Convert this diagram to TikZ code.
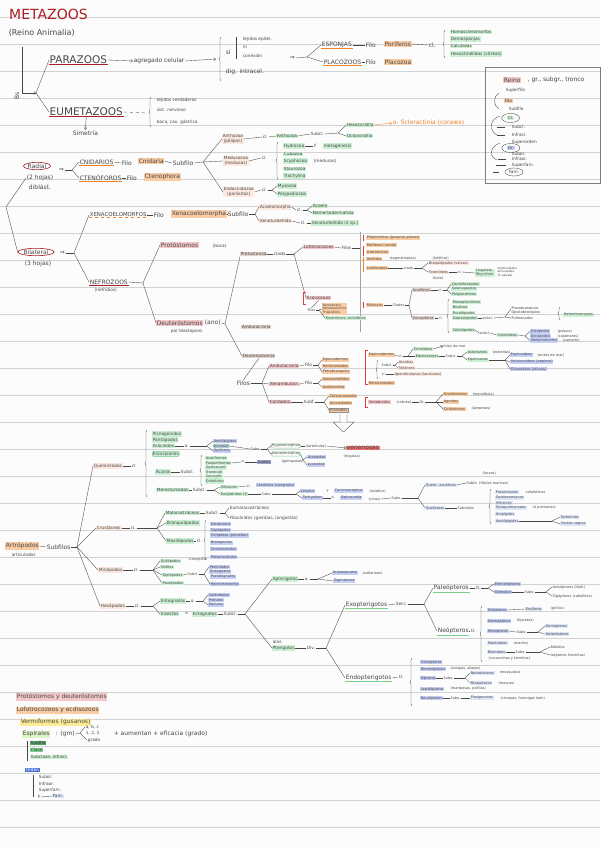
\documentclass[tikz,border=0pt]{standalone}
\usepackage{fontspec}
\setmainfont{DejaVu Sans}
\usetikzlibrary{arrows.meta,decorations.pathreplacing,shapes.geometric}
\definecolor{ink}{RGB}{70,70,70}
\definecolor{bgc}{RGB}{252,252,252}
\definecolor{rulec}{RGB}{210,210,210}
\definecolor{tred}{RGB}{172,28,34}
\definecolor{pfill}{RGB}{244,200,202}
\definecolor{ofill}{RGB}{250,204,164}
\definecolor{kfill}{RGB}{252,232,222}
\definecolor{gfill}{RGB}{204,240,212}
\definecolor{bfill}{RGB}{198,208,246}
\definecolor{lbfill}{RGB}{222,230,250}
\definecolor{brfill}{RGB}{228,214,204}
\definecolor{rfill}{RGB}{236,112,112}
\definecolor{bdark}{RGB}{150,160,200}
\definecolor{yfill}{RGB}{252,236,150}
\definecolor{lgfill}{RGB}{222,245,200}
\definecolor{dgfill}{RGB}{80,160,105}
\definecolor{mgfill}{RGB}{120,210,140}
\definecolor{blfill}{RGB}{70,110,215}
\definecolor{uorange}{RGB}{240,130,40}
\definecolor{ured}{RGB}{170,30,40}
\definecolor{ugreen}{RGB}{120,210,140}
\definecolor{rbrk}{RGB}{225,60,60}
\newcommand\fsmall{\fontsize{4.3}{5}\selectfont}
\newcommand\fmed{\fontsize{6}{7}\selectfont}
\newcommand\ftiny{\fontsize{3.5}{4}\selectfont}
\newcommand\fbig{\fontsize{10.5}{11}\selectfont}
\tikzset{
  tx/.style={font=\fsmall, text=ink, inner sep=0.6pt, anchor=west},
  txm/.style={tx, font=\fmed},
  txs/.style={tx, font=\ftiny, inner sep=0.4pt},
  bigt/.style={tx, font=\fbig, inner sep=0.5pt},
  bxg/.style={tx, fill=gfill},
  bxo/.style={tx, fill=ofill},
  bxp/.style={tx, fill=pfill},
  bxk/.style={tx, fill=kfill},
  bxb/.style={tx, fill=bfill},
  bxl/.style={tx, fill=lbfill},
  bxr/.style={tx, fill=brfill},
  bxy/.style={tx, fill=yfill},
  con/.style={draw=ink, line width=0.35pt},
  arr/.style={con, -{Straight Barb[length=2pt,width=3pt]}},
  rule/.style={draw=rulec, line width=0.9pt},
  brc/.style={con, decorate, decoration={brace, amplitude=2pt}},
  ulr/.style={draw=ured, line width=0.8pt},
  ulo/.style={draw=uorange, line width=0.8pt},
  ulg/.style={draw=ugreen, line width=0.6pt},
  circ/.style={draw=ugreen, rounded corners=2pt, line width=0.5pt},
  rbr/.style={draw=rbrk, line width=0.7pt},
}
\begin{document}
\begin{tikzpicture}[x=1pt,y=-1pt]
\useasboundingbox (0,0) rectangle (600,848);
\fill[bgc] (0,0) rectangle (600,848);
\foreach \k in {0,...,30} {\draw[rule] (0,17+27*\k) -- (600,17+27*\k);}

% ---------- title
\node[tx, font=\fontsize{14}{14}\selectfont, text=tred, inner sep=0] (title) at (9,14) {METAZOOS};
\node[tx, font=\fontsize{8}{9}\selectfont] (reino) at (8,33) {(Reino Animalia)};

% ---------- parazoos / eumetazoos
\coordinate (bsT) at (22,47);
\coordinate (bsB) at (22,93);
\coordinate (root) at (36,93);
\draw[con] (bsT) -- (bsB);
\draw[arr] (bsB) -- (root);
\node[txm, rotate=90] (bslab) at (17,100) {Bs};
\node[bigt] (para) at (49,60) {PARAZOOS};
\node[bigt] (eume) at (49,112) {EUMETAZOOS};
\draw[ulr] (para.south west) -- (para.south east);
\draw[ulr] (eume.south west) -- (eume.south east);
\draw[con] (root) -- (para.west);
\draw[con] (root) -- (eume.west);

\node[txm] (agreg) at (133,61) {agregado celular};
\draw[arr] (para.east) -- (agreg.west);
\coordinate (pbr) at (216,59);
\draw[arr] (agreg.east) -- (pbr);
\draw[brc] (221,81) -- (221,37);
\node[txm] (si) at (225,52) {sí};
\draw[con] (236,37) -- (236,59);
\node[tx] (tej) at (242,39) {tejidos epitel.};
\node[tx] (ni) at (242,47) {ni};
\node[tx] (conx) at (242,56) {conexión};
\node[txm] (dig) at (225,72) {dig. intracel.};
\node[txm] (impl) at (289,58) {⇒};
\coordinate (psplit) at (307,57);
\draw[con] (impl.east) -- (psplit);
\node[txm] (espon) at (321,45) {ESPONJAS};
\node[txm] (placo) at (323,62) {PLACOZOOS};
\draw[ulo] (espon.south west) -- (espon.south east);
\draw[ulo] (placo.south west) -- (placo.south east);
\draw[con] (psplit) -- (espon.west);
\draw[con] (psplit) -- (placo.west);
\node[txm] (filo1) at (365,45) {Filo};
\node[bxo, font=\fmed] (porif) at (384,44) {Poríferos};
\draw[con] (espon.east) -- (filo1.west);
\node[txm] (filo2) at (365,62) {Filo};
\node[bxo, font=\fmed] (placz) at (384,62) {Placozoa};
\draw[con] (placo.east) -- (filo2.west);
\node[txm] (cl1) at (428,45) {cl.};
\draw[con] (porif.east) -- (cl1.west);
\draw[brc] (445,58) -- (445,30);
\node[bxg] (por1) at (450,32) {Homoscleromorfos};
\node[bxg] (por2) at (450,39) {Demosponjas};
\node[bxg] (por3) at (450,46) {Calcáreas};
\node[bxg] (por4) at (450,54) {Hexactinélidas (vítreas)};

\coordinate (ebr) at (147,113);
\draw[con, dashed] (eume.east) -- (ebr);
\draw[brc] (151,127) -- (151,97);
\node[tx] (eu1) at (156,100) {tejidos verdaderos};
\node[tx] (eu2) at (156,110) {sist. nervioso};
\node[tx] (eu3) at (156,122) {boca, cav. gástrica};
\node[txm] (sim) at (72,133) {Simetría};
\draw[arr] (eume.south) -- (sim.north);

% ---------- taxonomy box
\draw[draw=ink!70, line width=0.5pt] (485,67) rectangle (600,183);
\node[bxp, font=\fmed] (treino) at (503,80) {Reino};
\node[txm] (tgr) at (527,80) {, gr., subgr., tronco};
\node[tx] (tsupf) at (505,90) {Superfilo};
\node[bxo] (tfilo) at (504,101) {Filo};
\node[tx] (tsubf) at (508,109) {Subfilo};
\node[bxg] (tcl) at (507,118) {Cl.};
\draw[con] (tcl.center) ellipse [x radius=9, y radius=4.5];
\node[tx] (tsubcl) at (511,127) {Subcl.};
\node[tx] (tinfcl) at (511,135) {Infracl.};
\node[tx] (tsupo) at (511,142) {Superorden};
\node[bxb] (tor) at (507,148) {Or.};
\draw[con] (tor.center) ellipse [x radius=9, y radius=4.5];
\node[tx] (tsubo) at (511,154) {Subor.};
\node[tx] (tinfo) at (511,159) {Infraor.};
\node[tx] (tsupfa) at (511,165) {Superfam.};
\node[tx] (tfam) at (508,172) {Fam.};
\draw[con] (tfam.center) ellipse [x radius=9, y radius=4];
\draw[con] (499,93) .. controls (493,96) and (493,106) .. (499,109);
\draw[con] (500,116) .. controls (489,119) and (489,131) .. (497,135);
\draw[con] (500,143) .. controls (489,147) and (489,157) .. (497,160);
\draw[con] (497,127) -- (505,127);
\draw[con] (497,135) -- (505,135);
\draw[con] (498,159) -- (506,159);
\draw[con] (496,165) -- (506,165);
\draw[con] (493,172) -- (499,172);

% ---------- radial
\node[txm, anchor=center, ellipse, draw=ured, line width=0.6pt, inner sep=0.3pt] (radial) at (37,166) {Radial};
\node[txm, anchor=center] (rad2) at (40,178) {(2 hojas)};
\node[txm, anchor=center] (rad3) at (40,187) {diblást.};
\node[txm, anchor=center, ellipse, draw=ured, line width=0.6pt, inner sep=0.3pt] (bilat) at (36,252) {Bilateral};
\node[txm, anchor=center] (bil2) at (38,264) {(3 hojas)};
\coordinate (symv) at (6,207);
\draw[con] (rad2.west) -- (symv) -- (bilat.west);

\node[txm] (rimp) at (58,170) {⇒};
\coordinate (rsplit) at (72,170);
\draw[con] (rimp.east) -- (rsplit);
\node[txm] (cnid) at (79,162) {CNIDARIOS};
\node[txm] (cten) at (79,178) {CTENÓFOROS};
\draw[ulo] (cnid.south west) -- (cnid.south east);
\draw[ulo] (cten.south west) -- (cten.south east);
\draw[con] (rsplit) -- (cnid.west);
\draw[con] (rsplit) -- (cten.west);
\node[txm] (fcn) at (121,163) {Filo};
\draw[con] (cnid.east) -- (fcn.west);
\node[bxo, font=\fmed] (cnidaria) at (138,161) {Cnidaria};
\node[txm] (subf1) at (172,163) {Subfilo};
\draw[con] (cnidaria.east) -- (subf1.west);
\coordinate (csplit) at (203,162);
\draw[con] (subf1.east) -- (csplit);
\node[bxk, align=center] (antho) at (222,139) {Anthozoa\\(pólipos)};
\node[bxk, align=center] (medu) at (223,161) {Medusozoa\\(medusas)};
\node[bxk, align=center] (endo) at (223,192) {Endocnidozoa\\(parásitos)};
\draw[con] (csplit) -- (antho.west);
\draw[con] (csplit) -- (medu.west);
\draw[con] (csplit) -- (endo.west);
\node[tx] (clA) at (262,137) {cl.};
\draw[con] (antho.east) -- (clA.west);
\node[bxg] (anthoz) at (276,136) {Anthozoa};
\draw[con] (clA.east) -- (anthoz.west);
\node[tx] (subclA) at (310,134) {Subcl.};
\draw[con] (anthoz.east) -- (subclA.west);
\coordinate (asplit) at (338,133);
\draw[con] (subclA.east) -- (asplit);
\node[bxg] (hexa) at (346,125) {Hexacorallia};
\node[bxg] (octo) at (346,136) {Octocorallia};
\draw[con] (asplit) -- (hexa.west);
\draw[con] (asplit) -- (octo.west);
\node[txm, text=uorange] (scler) at (392,123) {o. Scleractinia (corales)};
\draw[arr, draw=uorange] (hexa.east) -- (scler.west);

\node[tx] (clM) at (261,158) {cl.};
\draw[con] (medu.east) -- (clM.west);
\draw[brc] (278,179) -- (278,142);
\node[bxg] (hyd) at (283,146) {Hydrozoa};
\node[tx] (hy) at (313,146) {y};
\node[bxg] (hyd2) at (323,146) {metagénesis};
\draw[con] (hyd.east) -- (hy.west);
\node[bxg] (cubo) at (283,154) {Cubozoa};
\node[bxg] (scyp) at (283,161) {Scyphozoa};
\node[tx] (scyp2) at (313,161) {(medusas)};
\node[bxg] (stau) at (283,169) {Staurozoa};
\node[bxg] (trach) at (283,176) {Trachylina};

\node[tx] (clE) at (261,190) {cl.};
\draw[con] (endo.east) -- (clE.west);
\coordinate (esplit) at (272,190);
\draw[con] (clE.east) -- (esplit);
\node[bxg] (myxo) at (277,186) {Myxozoa};
\node[bxg] (polyE) at (277,194) {Polypodiozoa};
\draw[con] (esplit) -- (myxo.west);
\draw[con] (esplit) -- (polyE.west);

\node[txm] (fct) at (126,178) {Filo};
\draw[con] (cten.east) -- (fct.west);
\node[bxo, font=\fmed] (ctenoph) at (144,177) {Ctenophora};

% ---------- bilateral
\node[txm] (bimp) at (59,253) {⇒};
\coordinate (bsplit) at (74,253);
\draw[con] (bimp.east) -- (bsplit);
\node[txm, font=\fontsize{5.4}{6}\selectfont] (xena) at (89,215) {XENACOELOMORFOS};
\draw[ulo, dashed] (xena.south west) -- (xena.south east);
\node[txm] (nefro) at (89,282) {NEFROZOOS};
\draw[ulr] (nefro.south west) -- (nefro.south east);
\node[tx] (nefr2) at (94,290) {(nefridios)};
\draw[con] (bsplit) -- (xena.west);
\draw[con] (bsplit) -- (nefro.west);
\node[txm] (fx) at (153,215) {Filo};
\draw[con] (xena.east) -- (fx.west);
\node[bxo, font=\fmed] (xenac) at (171,214) {Xenacoelomorpha};
\node[txm] (subfx) at (227,214) {Subfilo};
\draw[con] (xenac.east) -- (subfx.west);
\coordinate (xsplit) at (255,214);
\draw[con] (subfx.east) -- (xsplit);
\node[bxk] (acoelo) at (259,207) {Acoelomorpha};
\node[bxk] (xenot) at (259,221) {Xenoturbellida};
\draw[con] (xsplit) -- (acoelo.west);
\draw[con] (xsplit) -- (xenot.west);
\node[tx] (clx1) at (296,210) {cl.};
\draw[con] (acoelo.east) -- (clx1.west);
\coordinate (x1split) at (307,210);
\draw[con] (clx1.east) -- (x1split);
\node[bxg] (acoela) at (312,206) {Acoela};
\node[bxg] (nemer) at (312,213) {Nemertodermatida};
\draw[con] (x1split) -- (acoela.west);
\draw[con] (x1split) -- (nemer.west);
\node[tx] (clx2) at (300,223) {cl.};
\draw[con] (xenot.east) -- (clx2.west);
\node[bxg] (xenot2) at (311,223) {Xenoturbellida (2 sp.)};
\draw[con] (clx2.east) -- (xenot2.west);

\coordinate (nsplit) at (143,283);
\draw[con] (nefro.east) -- (nsplit);
\node[bxp, font=\fmed] (proto) at (160,245) {Protóstomos};
\node[tx] (proto2) at (212,246) {(boca)};
\node[bxp, font=\fmed] (deut) at (156,323) {Deuteróstomos};
\node[txm] (deut2) at (204,323) {(ano)};
\node[tx] (deut3) at (170,331) {por blastoporo};
\draw[con] (nsplit) -- (proto.west);
\draw[con] (nsplit) -- (deut.west);
\coordinate (dsplit) at (225,324);
\draw[con] (deut2.east) -- (dsplit);
\node[bxr] (protost) at (240,254) {Protostomia};
\node[bxr] (ambul) at (241,327) {Ambulacraria};
\node[bxr] (deutst) at (242,356) {Deuterostomia};
\draw[con] (dsplit) -- (protost.south west);
\draw[con] (dsplit) -- (deutst.west);
\node[tx] (clado1) at (273,254) {clado};
\draw[con] (protost.east) -- (clado1.west);
\coordinate (lsplit) at (294,254);
\draw[con] (clado1.east) -- (lsplit);
\node[bxp] (lofo) at (303,247) {Lofotrocozoos};
\node[bxp] (ecdi) at (306,298) {Ecdisozoos};
\draw[con] (lsplit) -- (lofo.west);
\draw[con] (lsplit) -- (ecdi.west);

\node[txm] (filos3) at (236,383) {Filos};
\draw[con] (deutst.south) -- (filos3.north);
\coordinate (fsplit) at (262,383);
\draw[con] (filos3.east) -- (fsplit);
\node[bxp] (amb1) at (269,366) {Ambulacraria};
\node[bxp] (xamb) at (269,384) {Xenambulacr.};
\node[bxp] (cord) at (269,402) {Cordados};
\draw[con] (fsplit) -- (amb1.west);
\draw[con] (fsplit) -- (xamb.west);
\draw[con] (fsplit) -- (cord.west);
\node[tx] (fa) at (304,365) {Filo};
\draw[con] (amb1.east) -- (fa.west);
\coordinate (fasplit) at (318,365);
\draw[con] (fa.east) -- (fasplit);
\node[bxo, font=\ftiny] (o1) at (322,360) {Equinodermos};
\node[bxo, font=\ftiny] (o2) at (322,366) {Hemicordados};
\node[bxo, font=\ftiny] (o3) at (322,372) {Pterobranquios};
\draw[con] (fasplit) -- (o1.west);
\draw[con] (fasplit) -- (o3.west);
\node[tx] (fx2) at (304,383) {Filo};
\draw[con] (xamb.east) -- (fx2.west);
\coordinate (fx2s) at (318,383);
\draw[con] (fx2.east) -- (fx2s);
\node[bxo, font=\ftiny] (o4) at (322,379) {Xenoturbélidos};
\node[bxo, font=\ftiny] (o5) at (322,387) {Acelomorfos};
\draw[con] (fx2s) -- (o4.west);
\draw[con] (fx2s) -- (o5.west);
\node[tx] (fc) at (303,402) {Subf.};
\draw[con] (cord.east) -- (fc.west);
\coordinate (fcs) at (324,402);
\draw[con] (fc.east) -- (fcs);
\node[bxo, font=\ftiny] (o6) at (329,396) {Cefalocordados};
\node[bxo, font=\ftiny] (o7) at (329,403) {Urocordados};
\node[bxo, font=\ftiny, draw=ink!60] (o8) at (329,410) {Craniados};
\draw[con] (fcs) -- (o6.west);
\draw[con] (fcs) -- (o8.west);
\draw[con] (340,414) -- (340,422) -- (333,422) -- (343.5,432) -- (354,422) -- (347,422) -- (347,414);

% ---------- deuterostome details
\draw[rbr] (368,350) -- (365,350) -- (365,384) -- (368,384);
\node[bxo, font=\ftiny] (equi) at (368,355) {Equinodermos};
\node[txs] (cleq) at (398,356) {cl.};
\draw[con] (equi.east) -- (cleq.west);
\coordinate (eqsplit) at (408,356);
\draw[con] (cleq.east) -- (eqsplit);
\node[bxg, font=\ftiny] (crin) at (413,349) {Crinoideos};
\node[txs] (crin2) at (443,346) {lirios de mar};
\draw[arr] (crin.east) -- (crin2.west);
\node[bxg, font=\ftiny] (eleu) at (415,356) {Eleuterozoos};
\draw[con] (eqsplit) -- (crin.west);
\draw[con] (eqsplit) -- (eleu.west);
\node[txs] (subeq) at (445,356) {Subcl.};
\draw[con] (eleu.east) -- (subeq.west);
\coordinate (es2) at (462,356);
\draw[con] (subeq.east) -- (es2);
\node[bxg, font=\ftiny] (aster) at (467,352) {Asterozoos};
\node[txs] (aster2) at (492,352) {(estrellas)};
\node[bxg, font=\ftiny] (echz) at (467,360) {Equinozoos};
\draw[con] (es2) -- (aster.west);
\draw[con] (es2) -- (echz.west);
\coordinate (echsplit) at (505,360);
\draw[con] (echz.east) -- (echsplit);
\node[bxb, font=\ftiny] (echi) at (510,355) {Equinoideos};
\node[txs] (echi2) at (537,355) {(erizos de mar)};
\node[bxb, font=\ftiny] (holo) at (510,362) {Holoturoideos (pepinos)};
\node[bxb, font=\ftiny] (ophi) at (510,369) {Ofiuroideos (ofiuras)};
\draw[con] (echsplit) -- (echi.west);
\draw[con] (echsplit) -- (holo.west);
\draw[con] (echsplit) -- (ophi.west);

\draw[brc] (378,379) -- (378,360);
\node[txs] (uro1) at (381,365) {Subcl.};
\coordinate (urosplit) at (395,365);
\draw[con] (uro1.east) -- (urosplit);
\node[bxk, font=\ftiny] (asc) at (398,362) {Ascidias};
\node[bxk, font=\ftiny] (tal) at (398,368) {Taliáceos};
\draw[con] (urosplit) -- (asc.west);
\draw[con] (urosplit) -- (tal.west);
\node[txs] (uro2) at (381,374) {cl.};
\node[bxk, font=\ftiny] (apen) at (394,374) {Apendicularias (larváceos)};
\draw[con] (uro2.east) -- (apen.west);
\node[bxo, font=\ftiny] (hemi) at (368,383) {Hemicordados};

\draw[rbr] (368,397) -- (365,397) -- (365,407) -- (368,407);
\node[bxp, font=\ftiny] (verte) at (368,402) {Vertebrados};
\node[txs] (verte2) at (396,402) {(cráneo)};
\node[txs] (filv) at (419,402) {Gr.};
\draw[con] (verte2.east) -- (filv.west);
\coordinate (vsplit) at (436,402);
\draw[con] (filv.east) -- (vsplit);
\node[bxo, font=\ftiny] (gnat) at (443,394) {Gnatóstomos};
\node[txs] (gnat2) at (472,394) {(mandíbula)};
\node[bxo, font=\ftiny] (agna) at (443,402) {Agnatos};
\node[bxo, font=\ftiny] (cicl) at (443,409) {Ciclóstomos};
\node[txs] (cicl2) at (471,409) {(lampreas)};
\draw[con] (vsplit) -- (gnat.west);
\draw[con] (vsplit) -- (agna.west);
\draw[con] (vsplit) -- (cicl.west);

% ---------- lofotrocozoos
\draw[draw=ink!50, line width=0.4pt] (360,232) -- (360,332);
\node[tx] (filosL) at (341,248) {Filos};
\draw[con] (lofo.east) -- (filosL.west);
\coordinate (lvbar) at (360,248);
\draw[con] (filosL.east) -- (lvbar);
\draw[rbr] (363,235) -- (363,241);
\node[bxo, font=\ftiny] (plat) at (366,238) {Platelmintos (gusanos planos)};
\node[bxo, font=\ftiny] (rot) at (366,245) {Rotíferos (rueda)};
\node[bxo, font=\ftiny] (gast) at (366,252) {Gastrotricos};
\draw[rbr] (363,246) -- (363,256);
\draw[draw=uorange, line width=0.7pt] (363,257) -- (363,272);
\node[bxo, font=\ftiny] (anel) at (366,259) {Anélidos};
\node[txs] (anel2) at (389,259) {(segmentados)};
\node[bxo, font=\ftiny] (lofof) at (366,268) {Lofoforados};
\node[txs] (clad2) at (403,268) {clado};
\draw[con] (lofof.east) -- (clad2.west);
\coordinate (lfsplit) at (422,268);
\draw[con] (clad2.east) -- (lfsplit);
\node[txs] (brq0) at (432,258) {(lofóforo)};
\node[bxk, font=\ftiny] (braq) at (428,263) {Braquiópodos (valvas)};
\node[bxk, font=\ftiny] (foro) at (428,272) {Foronídeos};
\node[txs] (foro2) at (432,278) {(tubo)};
\draw[con] (lfsplit) -- (braq.west);
\draw[con] (lfsplit) -- (foro.west);
\node[txs] (clfo) at (457,272) {cl.};
\draw[con] (foro.east) -- (clfo.west);
\node[bxg, font=\ftiny, align=left] (ling) at (475,273) {Lingulata\\Rhynchon.};
\draw[con] (clfo.east) -- (ling.west);
\node[tx, font=\fontsize{3}{3.5}\selectfont, align=left, inner sep=0.3pt] (ling2) at (497,272) {inarticulados\\articulados\\(2 valvas)};

\draw[rbr] (306,292) -- (303,292) -- (303,304) -- (306,304);
\node[txs] (fec) at (307,310) {Filos};
\draw[con] (ecdi.south) -- (fec.north);
\coordinate (ecsplit) at (319,310);
\draw[con] (fec.east) -- (ecsplit);
\node[bxo, font=\fontsize{3.2}{3.7}\selectfont, align=left, inner sep=0.5pt] (nema) at (322,309) {Nematodos\\Nematomorfos\\Priapúlidos};
\node[bxg, font=\ftiny] (kino) at (325,318) {Kinorrincos, Loricíferos};
\draw[con] (ecsplit) -- (nema.west);
\draw[con] (ecsplit) -- (kino.west);

\draw[rbr] (363,302) -- (363,308);
\node[bxo, font=\ftiny] (mol) at (366,305) {Moluscos};
\node[txs] (clm) at (392,305) {Clados};
\draw[con] (mol.east) -- (clm.west);
\coordinate (msplit) at (409,305);
\draw[con] (clm.east) -- (msplit);
\node[bxr, font=\ftiny] (acul) at (412,290) {Aculíferos};
\node[bxr, font=\ftiny] (conq) at (412,318) {Conquíferos};
\draw[con] (msplit) -- (acul.west);
\draw[con] (msplit) -- (conq.west);
\node[txs] (clac) at (438,290) {cl.};
\draw[con] (acul.east) -- (clac.west);
\coordinate (acsplit) at (447,290);
\draw[con] (clac.east) -- (acsplit);
\node[bxg, font=\ftiny] (cau) at (451,284) {Caudofoveados};
\node[bxg, font=\ftiny] (sole) at (451,289) {Solenogastros};
\node[bxg, font=\ftiny] (poli) at (451,294) {Poliplacóforos};
\draw[con] (acsplit) -- (cau.west);
\draw[con] (acsplit) -- (poli.west);
\node[txs] (clcq) at (438,318) {cl.};
\draw[con] (conq.east) -- (clcq.west);
\draw[brc] (449,333) -- (449,299);
\node[bxg, font=\ftiny] (mono) at (452,302) {Monoplacóforos};
\node[bxg, font=\ftiny] (biva) at (452,307) {Bivalvos};
\node[bxg, font=\ftiny] (esca) at (452,313) {Escafópodos};
\node[bxg, font=\ftiny] (gast2) at (452,318) {Gasterópodos};
\node[bxg, font=\ftiny] (cefa) at (452,330) {Cefalópodos};
\node[txs] (subg) at (482,318) {subcl.};
\draw[con] (gast2.east) -- (subg.west);
\coordinate (gsplit) at (505,317);
\draw[con] (subg.east) -- (gsplit);
\node[txs] (pros) at (511,309) {Prosobranquios};
\node[txs] (opis) at (511,313) {Opistobranquios};
\node[txs] (pulm) at (511,318) {Pulmonados};
\draw[con] (gsplit) -- (pros.west);
\draw[con] (gsplit) -- (pulm.west);
\draw[brc] (560,320) -- (560,307);
\node[bxg, font=\ftiny] (hetb) at (563,315) {Heterobranquios};
\node[txs] (cef2) at (479,333) {subcl.};
\draw[con] (cefa.east) -- (cef2.west);
\node[bxg, font=\ftiny] (cole) at (497,335) {Coleoideos};
\draw[con] (cef2.east) -- (cole.west);
\coordinate (cosplit) at (525,336);
\draw[con] (cole.east) -- (cosplit);
\node[bxb, font=\ftiny] (octp) at (530,331.5) {Octópodos};
\node[bxb, font=\ftiny] (decp) at (530,336) {Decápodos};
\node[bxb, font=\ftiny] (vamp) at (530,340.5) {Vampiromorfos};
\node[txs] (octp2) at (557,331.5) {(pulpos)};
\node[txs] (decp2) at (557,336) {(calamares)};
\node[txs] (vamp2) at (562,340.5) {(vampiro)};
\draw[con] (cosplit) -- (octp.west);
\draw[con] (cosplit) -- (vamp.west);

% ---------- artropodos
\node[bxo, font=\fmed] (artro) at (5,546) {Artrópodos};
\node[tx] (artro2) at (11,555) {articulados};
\node[txm] (subph) at (46,547) {Subfilos};
\draw[con] (artro.east) -- (subph.west);
\coordinate (asplit2) at (77,547);
\draw[con] (subph.east) -- (asplit2);
\node[bxk] (quel) at (93,466) {Quelicerados};
\node[bxk] (crus) at (96,528) {Crustáceos};
\node[bxk] (miri) at (98,570) {Miriápodos};
\node[bxk] (hexp) at (100,606) {Hexápodos};
\draw[con] (asplit2) -- (quel.west);
\draw[con] (asplit2) -- (crus.west);
\draw[con] (asplit2) -- (miri.west);
\draw[con] (asplit2) -- (hexp.west);

\node[tx] (clq) at (131,466) {cl.};
\draw[con] (quel.east) -- (clq.west);
\draw[brc] (147,497) -- (147,430);
\node[bxg] (q1) at (152,434) {Picnogónidos};
\node[bxg] (q2) at (152,440) {Pantópodos};
\node[bxg] (q3) at (152,446) {Arácnidos};
\node[bxg, circ] (q4) at (152,454) {Escorpiones};
\node[bxg] (q5) at (155,472) {Ácaros};
\node[bxg] (q6) at (156,490) {Merostomados};
\node[tx] (oq3) at (184,446) {o.};
\draw[con] (q3.east) -- (oq3.west);
\coordinate (q3split) at (207,446);
\draw[con] (oq3.east) -- (q3split);
\node[bxb, font=\ftiny] (esc) at (213,441) {Amblipígidos};
\node[bxb, font=\ftiny, circ] (aran) at (213,446) {Araneae};
\node[bxb, font=\ftiny] (opil) at (213,451) {Opiliones};
\draw[con] (q3split) -- (esc.west);
\draw[con] (q3split) -- (opil.west);
\node[txs] (sbo) at (250,449) {Subo.};
\draw[con] (aran.east) -- (sbo.west);
\coordinate (sbsplit) at (267,449);
\draw[con] (sbo.east) -- (sbsplit);
\node[txs, circ] (myga) at (271,446) {Mygalomorphae};
\node[txs, circ] (arnm) at (271,454) {Araneomorphae};
\draw[con] (sbsplit) -- (myga.west);
\draw[con] (sbsplit) -- (arnm.west);
\node[txs] (myga2) at (305,446) {(tarántulas)};
\draw[con] (myga.east) -- (myga2.west);
\node[tx, fill=rfill, font=\fmed] (vene) at (346,448) {venenosas};
\draw[arr] (myga2.east) -- (vene.west);
\node[txs] (vene2) at (343,457) {(migalas)};
\coordinate (arsplit) at (303,460);
\draw[con] (arnm.east) -- (arsplit);
\node[bxb, font=\ftiny] (arn1) at (307,457) {Araneidae};
\node[bxb, font=\ftiny] (arn2) at (307,465) {Lycosidae};
\draw[con] (arsplit) -- (arn1.west);
\draw[con] (arsplit) -- (arn2.west);

\node[tx] (sq5) at (180,472) {Subcl.};
\draw[con] (q5.east) -- (sq5.west);
\draw[brc] (202,486) -- (202,455);
\node[bxg, font=\ftiny] (ac1) at (205,458) {Acariformes};
\node[bxg, font=\ftiny] (ac2) at (205,463) {Parasitiformes};
\node[bxg, font=\ftiny] (ac3) at (205,468) {Opilioacarif.};
\node[bxg, font=\ftiny] (ac4) at (205,472.5) {Trombidif.};
\node[bxg, font=\ftiny] (ac5) at (205,477) {Sarcoptif.};
\node[bxg, font=\ftiny] (ac6) at (205,481.5) {Oribátidos};
\node[txs] (oac) at (241,462) {o.};
\draw[con] (ac2.east) -- (oac.west);
\node[tx, fill=bdark, font=\ftiny] (ixod) at (257,462) {Ixodida};
\draw[con] (oac.east) -- (ixod.west);
\node[txs] (ixod2) at (281,462) {(garrapatas)};

\node[tx] (sq6) at (192,490) {Subcl.};
\draw[con] (q6.east) -- (sq6.west);
\coordinate (q6split) at (214,490);
\draw[con] (sq6.east) -- (q6split);
\node[bxg, font=\ftiny] (xifo) at (220,487) {Xifosuros};
\node[bxg, font=\ftiny] (euri) at (220,494) {Euriptéridos (†)};
\draw[con] (q6split) -- (xifo.west);
\draw[con] (q6split) -- (euri.west);
\node[txs] (clxi) at (246,486) {cl.};
\draw[con] (xifo.east) -- (clxi.west);
\node[bxb, font=\ftiny] (limu) at (256,485) {Limúlidos (cangrejos)};
\node[txs] (subeu) at (261,494) {Subo.};
\draw[con] (euri.east) -- (subeu.west);
\coordinate (eusplit) at (296,494);
\draw[con] (subeu.east) -- (eusplit);
\node[bxb, font=\ftiny] (eu1) at (300,491) {Limulus};
\node[bxb, font=\ftiny] (eu2) at (302,498) {Tachypleus};
\draw[con] (eusplit) -- (eu1.west);
\draw[con] (eusplit) -- (eu2.west);
\node[txs] (eu1y) at (326,491) {y};
\node[bxb, font=\ftiny] (eu1b) at (334,491) {Carcinoscorpius};
\node[txs] (eu1c) at (369,491) {(asiático)};
\node[txs] (eu2o) at (331,498) {o.};
\draw[con] (eu2.east) -- (eu2o.west);
\node[bxb, font=\ftiny] (eu2b) at (340,498) {Xiphosurida};
\node[txs] (eu2c) at (368,499) {(vivos)};
\node[txs] (sbo2) at (391,498) {Subo.};
\draw[con] (eu2c.east) -- (sbo2.west);
\coordinate (s2split) at (418,498);
\draw[con] (sbo2.east) -- (s2split);
\node[bxl, font=\ftiny] (qua) at (425,485) {Quelic. acuáticos};
\node[txs] (qua2) at (466,483) {Subfo. (fósiles marinos)};
\node[txs] (qua3) at (482,473) {(larvas)};
\node[bxl, font=\ftiny] (qte) at (425,508) {Quelíceros};
\draw[con] (s2split) -- (qua.west);
\draw[con] (s2split) -- (qte.west);
\draw[con] (qua.east) -- (qua2.west);
\node[txs] (qte2) at (457,508) {Subclado};
\draw[con] (qte.east) -- (qte2.west);
\draw[brc] (491,524) -- (491,489);
\node[bxl, font=\ftiny] (sc1) at (495,492) {Prosomianos};
\node[bxl, font=\ftiny] (sc2) at (495,498) {Opistosomianos};
\node[bxl, font=\ftiny] (sc3) at (495,503) {Xifosuros};
\node[bxl, font=\ftiny] (sc4) at (495,508) {Tetrapulmonados};
\node[bxl, font=\ftiny] (sc5) at (495,514) {Uropígidos};
\node[bxl, font=\ftiny] (sc6) at (495,521) {Amblipígidos};
\node[txs] (sc1b) at (525,492) {cefalotórax};
\node[txs] (sc4b) at (532,508) {(4 pulmones)};
\coordinate (sc6split) at (552,521);
\draw[con] (sc6.east) -- (sc6split);
\node[bxl, font=\ftiny] (sc7) at (560,517) {Tarántulas};
\node[bxl, font=\ftiny] (sc8) at (560,524) {Viudas negras};
\draw[con] (sc6split) -- (sc7.west);
\draw[con] (sc6split) -- (sc8.west);

\node[tx] (clc) at (130,528) {cl.};
\draw[con] (crus.east) -- (clc.west);
\coordinate (crsplit) at (157,528);
\draw[con] (clc.east) -- (crsplit);
\node[bxg] (mala) at (165,513) {Malacostráceos};
\node[bxg] (bran) at (166,523) {Branquiópodos};
\node[bxg] (maxi) at (166,541) {Maxilópodos};
\draw[con] (crsplit) -- (mala.west);
\draw[con] (crsplit) -- (bran.west);
\draw[con] (crsplit) -- (maxi.west);
\node[tx] (smala) at (205,513) {Subcl.};
\draw[con] (mala.east) -- (smala.west);
\coordinate (mlsplit) at (225,513);
\draw[con] (smala.east) -- (mlsplit);
\node[tx] (eum) at (229,508) {Eumalacostráceos};
\node[tx] (filoc) at (229,518) {Filocáridos (gambas, langostas)};
\draw[con] (mlsplit) -- (eum.west);
\draw[con] (mlsplit) -- (filoc.west);
\node[tx] (clmx) at (196,541) {cl.};
\draw[con] (maxi.east) -- (clmx.west);
\draw[brc] (206,560) -- (206,520);
\node[bxb, font=\ftiny] (cr1) at (210,524) {Ostrácodos};
\node[bxb, font=\ftiny] (cr2) at (210,530) {Copépodos};
\node[bxb, font=\ftiny] (cr3) at (210,535.5) {Cirrípedos (percebes)};
\node[bxb, font=\ftiny] (cr4) at (210,543) {Branquiuros};
\node[bxb, font=\ftiny] (cr5) at (210,549) {Tantulocáridos};
\node[bxb, font=\ftiny] (cr6) at (210,557) {Mistacocáridos};

\node[tx] (clmi) at (133,570) {cl.};
\draw[con] (miri.east) -- (clmi.west);
\coordinate (misplit) at (153,570);
\draw[con] (clmi.east) -- (misplit);
\node[bxg, font=\ftiny] (m1) at (160,561) {Quilópodos};
\node[txs] (m1b) at (188,559) {(ciempiés)};
\node[bxg, font=\ftiny] (m2) at (160,567) {Sínfilos};
\node[bxg, font=\ftiny] (m3) at (162,575) {Diplópodos};
\node[bxg, font=\ftiny] (m4) at (162,583) {Paurópodos};
\draw[con] (misplit) -- (m1.west);
\draw[con] (misplit) -- (m2.west);
\draw[con] (misplit) -- (m3.west);
\draw[con] (misplit) -- (m4.west);
\node[txs] (sm3) at (187,574) {Subcl.};
\draw[con] (m3.east) -- (sm3.west);
\coordinate (m3split) at (204,574);
\draw[con] (sm3.east) -- (m3split);
\node[bxb, font=\ftiny] (mb1) at (209,567) {Penicilados};
\node[bxb, font=\ftiny] (mb2) at (209,572) {Quilognatos};
\node[bxb, font=\ftiny] (mb3) at (210,577) {Pselafognatos};
\node[bxb, font=\ftiny] (mb4) at (210,584) {Helmintomorfos};
\draw[con] (m3split) -- (mb1.west);
\draw[con] (m3split) -- (mb4.west);

\node[tx] (clh) at (134,606) {cl.};
\draw[con] (hexp.east) -- (clh.west);
\coordinate (hxsplit) at (153,606);
\draw[con] (clh.east) -- (hxsplit);
\node[bxg] (ento) at (160,601) {Entognatos};
\node[bxg] (inse) at (160,614) {Insectos};
\draw[con] (hxsplit) -- (ento.west);
\draw[con] (hxsplit) -- (inse.west);
\node[tx] (oento) at (190,601) {o.};
\draw[con] (ento.east) -- (oento.west);
\coordinate (entsplit) at (203,601);
\draw[con] (oento.east) -- (entsplit);
\node[bxb, font=\ftiny] (en1) at (208,595) {Colémbolos};
\node[bxb, font=\ftiny] (en2) at (208,600) {Proturos};
\node[bxb, font=\ftiny] (en3) at (208,605) {Dipluros};
\draw[con] (entsplit) -- (en1.west);
\draw[con] (entsplit) -- (en3.west);
\node[tx] (inseq) at (184,614) {=};
\node[bxg] (ecto) at (192,614) {Ectognatos};
\node[tx] (subcli) at (223,614) {Subcl.};
\draw[con] (ecto.east) -- (subcli.west);
\coordinate (isplit) at (245,614);
\draw[con] (subcli.east) -- (isplit);
\node[bxg] (apte) at (272,579) {Apterigotos};
\node[tx] (alas) at (272,642) {alas};
\node[bxg] (pteri) at (272,648) {Pterigotos};
\draw[con] (isplit) -- (apte.west);
\draw[con] (isplit) -- (pteri.west);
\node[tx] (oap) at (304,579) {o.};
\draw[con] (apte.east) -- (oap.west);
\coordinate (apsplit) at (318,579);
\draw[con] (oap.east) -- (apsplit);
\node[bxb, font=\ftiny] (arq) at (332,573) {Arqueognatos};
\node[txs] (arq2) at (362,573) {(saltarines)};
\node[bxb, font=\ftiny] (zig) at (333,581) {Zigentomos};
\draw[con] (apsplit) -- (arq.west);
\draw[con] (apsplit) -- (zig.west);
\node[tx] (divp) at (306,648) {Div.};
\draw[con] (pteri.east) -- (divp.west);
\coordinate (ptsplit) at (326,648);
\draw[con] (divp.east) -- (ptsplit);
\node[txm] (exo) at (345,605) {Exopterigotos};
\node[txm] (endop) at (345,678) {Endopterigotos};
\draw[ulg] (exo.south west) -- (exo.south east);
\draw[ulg] (endop.south west) -- (endop.south east);
\draw[con] (ptsplit) -- (exo.west);
\draw[con] (ptsplit) -- (endop.west);
\node[tx] (secc) at (395,604) {Secc.};
\draw[con] (exo.east) -- (secc.west);
\coordinate (exsplit) at (424,604);
\draw[con] (secc.east) -- (exsplit);
\node[txm] (paleo) at (433,588) {Paleópteros};
\node[txm] (neop) at (437,631) {Neópteros};
\draw[ulg] (paleo.south west) -- (paleo.south east);
\draw[ulg] (neop.south west) -- (neop.south east);
\draw[con] (exsplit) -- (paleo.west);
\draw[con] (exsplit) -- (neop.west);
\node[tx] (opal) at (475,588) {O.};
\draw[con] (paleo.east) -- (opal.west);
\coordinate (pasplit) at (488,588);
\draw[con] (opal.east) -- (pasplit);
\node[bxb, font=\ftiny] (efem) at (494,584) {Efemerópteros};
\node[bxb, font=\ftiny] (odon) at (494,592) {Odonatos};
\draw[con] (pasplit) -- (efem.west);
\draw[con] (pasplit) -- (odon.west);
\node[txs] (sodo) at (524,592) {Subo.};
\draw[con] (odon.east) -- (sodo.west);
\coordinate (odsplit) at (546,592);
\draw[con] (sodo.east) -- (odsplit);
\node[txs] (aniso) at (552,587) {Anisópteros (libél.)};
\node[txs] (zigo) at (552,596) {Zigópteros (caballitos)};
\draw[con] (odsplit) -- (aniso.west);
\draw[con] (odsplit) -- (zigo.west);
\node[tx] (oneo) at (470,631) {O.};
\draw[con] (neop.east) -- (oneo.west);
\draw[brc] (482,662) -- (482,606);
\node[bxb, font=\ftiny] (orto) at (487,610) {Ortópteros};
\node[bxl, font=\ftiny] (orto2) at (525,609) {Ensíferos};
\draw[con] (orto.east) -- (orto2.west);
\node[txs] (orto3) at (550,609) {(grillos)};
\node[bxb, font=\ftiny] (derm) at (487,621) {Dermápteros};
\node[txs] (derm2) at (516,621) {(tijeretas)};
\node[bxb, font=\ftiny] (hemip) at (487,631) {Hemípteros};
\node[txs] (shem) at (516,632) {Subo.};
\draw[con] (hemip.east) -- (shem.west);
\coordinate (hemsplit) at (538,632);
\draw[con] (shem.east) -- (hemsplit);
\node[bxl, font=\ftiny] (homo) at (545,626) {Homópteros};
\node[bxl, font=\ftiny] (hete) at (545,634) {Heterópteros};
\draw[con] (hemsplit) -- (homo.west);
\draw[con] (hemsplit) -- (hete.west);
\node[bxl, font=\ftiny] (mant) at (487,643) {Mantodeos};
\node[txs] (mant2) at (513,643) {(mantis)};
\node[bxl, font=\ftiny] (blat) at (487,652) {Blatodeos};
\node[txs] (sblat) at (515,652) {Subo.};
\draw[con] (blat.east) -- (sblat.west);
\coordinate (blsplit) at (540,652);
\draw[con] (sblat.east) -- (blsplit);
\node[txs] (bl1) at (550,647) {Blátidos};
\node[txs] (bl2) at (550,655) {Isópteros (termitas)};
\draw[con] (blsplit) -- (bl1.west);
\draw[con] (blsplit) -- (bl2.west);
\node[txs] (blat3) at (488,659) {(cucarachas y termitas)};

\node[tx] (oend) at (398,677) {O.};
\draw[con] (endop.east) -- (oend.west);
\draw[brc] (412,706) -- (412,658);
\node[bxb, font=\ftiny] (cole2) at (420,662) {Coleópteros};
\node[bxb, font=\ftiny] (hime) at (420,669) {Himenópteros};
\node[txs] (hime2) at (450,669) {(avispas, abejas)};
\node[bxb, font=\ftiny] (dipt) at (420,678) {Dípteros};
\node[txs] (sdip) at (443,678) {Subo.};
\draw[con] (dipt.east) -- (sdip.west);
\coordinate (dsplit2) at (465,678);
\draw[con] (sdip.east) -- (dsplit2);
\node[bxl, font=\ftiny] (nemt) at (470,673) {Nematóceros};
\node[txs] (nemt2) at (499,673) {(mosquitos)};
\node[bxl, font=\ftiny] (braqc) at (470,683) {Braquíceros};
\node[txs] (braqc2) at (498,683) {(moscas)};
\draw[con] (dsplit2) -- (nemt.west);
\draw[con] (dsplit2) -- (braqc.west);
\node[bxb, font=\ftiny] (lepi) at (420,689) {Lepidópteros};
\node[txs] (lepi2) at (450,689) {(mariposas, polillas)};
\node[bxb, font=\ftiny] (neur) at (420,698) {Neurópteros};
\node[txs] (sneu) at (450,698) {Subo.};
\draw[con] (neur.east) -- (sneu.west);
\node[bxl, font=\ftiny] (plan) at (470,698) {Planipennios};
\draw[con] (sneu.east) -- (plan.west);
\node[txs] (plan2) at (500,698) {(crisopas, hormigas león)};

% ---------- legend
\node[bxp, font=\fmed] (lg1) at (16,697) {Protóstomos y deuteróstomos};
\node[bxo, font=\fmed] (lg2) at (16,710) {Lofotrocozoos y ecdisozoos};
\node[bxy, font=\fmed] (lg3) at (20,722) {Vermiformes (gusanos)};
\node[tx, fill=lgfill, font=\fmed] (lg4) at (22,734) {Espirales};
\node[txm] (lg4b) at (55,734) {: (gm)};
\coordinate (lgsplit) at (80,733);
\draw[con] (lg4b.east) -- (lgsplit);
\node[tx] (lg5a) at (85,727) {a, b, c};
\node[tx] (lg5b) at (85,733) {1, 2, 3};
\node[tx] (lg5c) at (87,740) {grado};
\draw[con] (lgsplit) -- (lg5a.west);
\draw[con] (lgsplit) -- (lg5c.west);
\node[txm] (lg6) at (113,734) {+ aumentan + eficacia (grado)};
\draw[con] (27,741) -- (27,761);
\node[tx, fill=dgfill] (lg7) at (30,743) {Subfilo};
\node[tx, fill=mgfill] (lg8) at (30,750) {Clase};
\node[tx, fill=gfill] (lg9) at (30,757) {Subclase, infracl.};
\node[tx, fill=blfill, text=white] (lg10) at (25,770) {Orden};
\draw[con] (33,775) -- (33,797);
\node[tx] (lg11) at (38,777) {Subor.};
\node[tx] (lg12) at (38,784) {Infraor.};
\node[tx] (lg13) at (38,790) {Superfam.};
\node[tx] (lg14) at (37,797) {F};
\node[tx, fill=lbfill] (lg15) at (52,796) {Fam.};
\draw[con] (lg14.east) -- (lg15.west);
\end{tikzpicture}
\end{document}
